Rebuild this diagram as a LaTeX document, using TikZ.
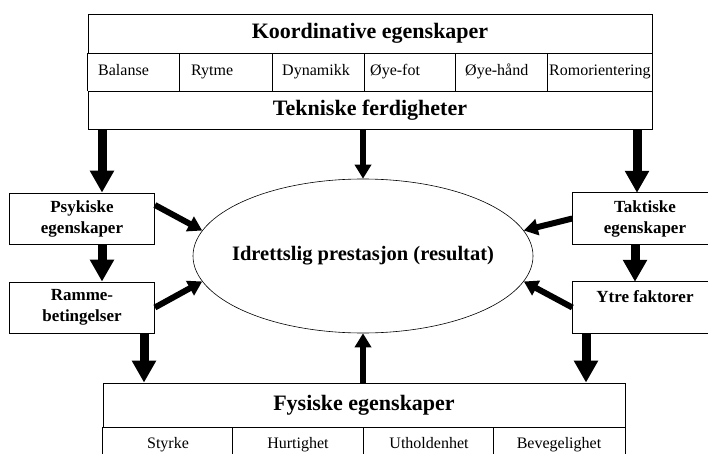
\documentclass[tikz,border=0pt]{standalone}
\usepackage{fontspec}
\setmainfont{Liberation Serif}
\usetikzlibrary{arrows.meta, positioning, shapes.geometric}

\begin{document}
\begin{tikzpicture}[x=1pt, y=-1pt,
    box/.style={draw, line width=0.8pt, inner sep=0pt},
    title/.style={font=\bfseries\fontsize{22}{24}\selectfont},
    cell/.style={font=\fontsize{16}{18}\selectfont, inner sep=0pt},
    side/.style={inner sep=0pt, align=center, minimum width=145pt, minimum height=51pt,
                 font=\bfseries\fontsize{17}{21}\selectfont},
    fat/.style={line width=9pt, -{Triangle[length=22pt, width=23pt]}},
    slim/.style={line width=6pt, -{Triangle[length=14pt, width=16pt]}}]

    \useasboundingbox (0,0) rectangle (708,454);

    % Top block
    \node[box, title, minimum width=564pt, minimum height=39pt] (koord) at (370,33.5) {Koordinative egenskaper};
    \node[box, title, minimum width=564pt, minimum height=38pt] (tekn) at (370,110) {Tekniske ferdigheter};
    \draw[line width=0.8pt] (koord.south west) -- (tekn.north west);
    \draw[line width=0.8pt] (koord.south east) -- (tekn.north east);
    \foreach \dx in {92,185,277,368,460}
        \draw[line width=0.8pt] ([xshift=\dx pt]koord.south west) -- ([xshift=\dx pt]tekn.north west);

    \foreach \nm/\x/\txt in {bal/98/Balanse, ryt/191/Rytme, dyn/282/Dynamikk,
                             fot/370/Øye-fot, hand/465/Øye-hånd, rom/549/Romorientering}
        \node[cell, anchor=base west] (\nm) at (\x,76) {\txt};

    % Side boxes
    \node[box, side] (psyk) at (82,218.5) {Psykiske\\egenskaper};
    \node[box, side] (ramme) at (82,307.5) {Ramme-\\betingelser};
    \node[side] (takt) at (645,218.5) {Taktiske\\egenskaper};
    \node[side] (ytre) at (645,307.5) {Ytre faktorer\\~};
    \draw[line width=0.8pt] ([xshift=-9.5pt]takt.north east) -- (takt.north west)
        -- (takt.south west) -- ([xshift=-9.5pt]takt.south east);
    \draw[line width=0.8pt] ([xshift=-9.5pt]ytre.north east) -- (ytre.north west)
        -- (ytre.south west) -- ([xshift=-9.5pt]ytre.south east);

    % Centre
    \node[draw, ellipse, line width=0.6pt, minimum width=340pt, minimum height=154pt, inner sep=0pt,
          font=\bfseries\fontsize{20.5}{24}\selectfont] (idrett) at (363,256)
          {\makebox[0pt]{Idrettslig prestasjon (resultat)}};

    % Bottom block
    \node[box, title, minimum width=522pt, minimum height=44pt] (fys) at (364,405) {Fysiske egenskaper};
    \draw[line width=0.8pt] (fys.south west) -- ++(0,30);
    \draw[line width=0.8pt] (fys.south east) -- ++(0,30);
    \foreach \dx in {130,261,391}
        \draw[line width=0.8pt] ([xshift=\dx pt]fys.south west) -- ++(0,30);

    \foreach \nm/\x/\txt in {sty/168/Styrke, hur/298/Hurtighet, uth/429/Utholdenhet, bev/559/Bevegelighet}
        \node[cell, anchor=base] (\nm) at (\x,448) {\txt};

    % Arrows
    \draw[fat] ([xshift=20pt]psyk.north |- tekn.south) -- ([xshift=20pt]psyk.north);
    \draw[fat] ([xshift=-8pt]takt.north |- tekn.south) -- ([xshift=-8pt]takt.north);
    \draw[slim] (idrett.north |- tekn.south) -- (idrett.north);

    \draw[fat] ([xshift=20pt]psyk.south) -- ([xshift=20pt]ramme.north);
    \draw[fat] ([xshift=-10pt]takt.south) -- ([xshift=-10pt]ytre.north);

    \draw[fat] ([xshift=62pt]ramme.south) -- ([xshift=62pt]ramme.south |- fys.north);
    \draw[fat] ([xshift=-59pt]ytre.south) -- ([xshift=-59pt]ytre.south |- fys.north);
    \draw[slim] (idrett.south |- fys.north) -- (idrett.south);

    \draw[slim] ([yshift=13.5pt]psyk.east) -- (idrett.171);
    \draw[slim] (ramme.east) -- (idrett.189);
    \draw[slim] (takt.west) -- (idrett.9);
    \draw[slim] (ytre.west) -- (idrett.351);

\end{tikzpicture}
\end{document}
